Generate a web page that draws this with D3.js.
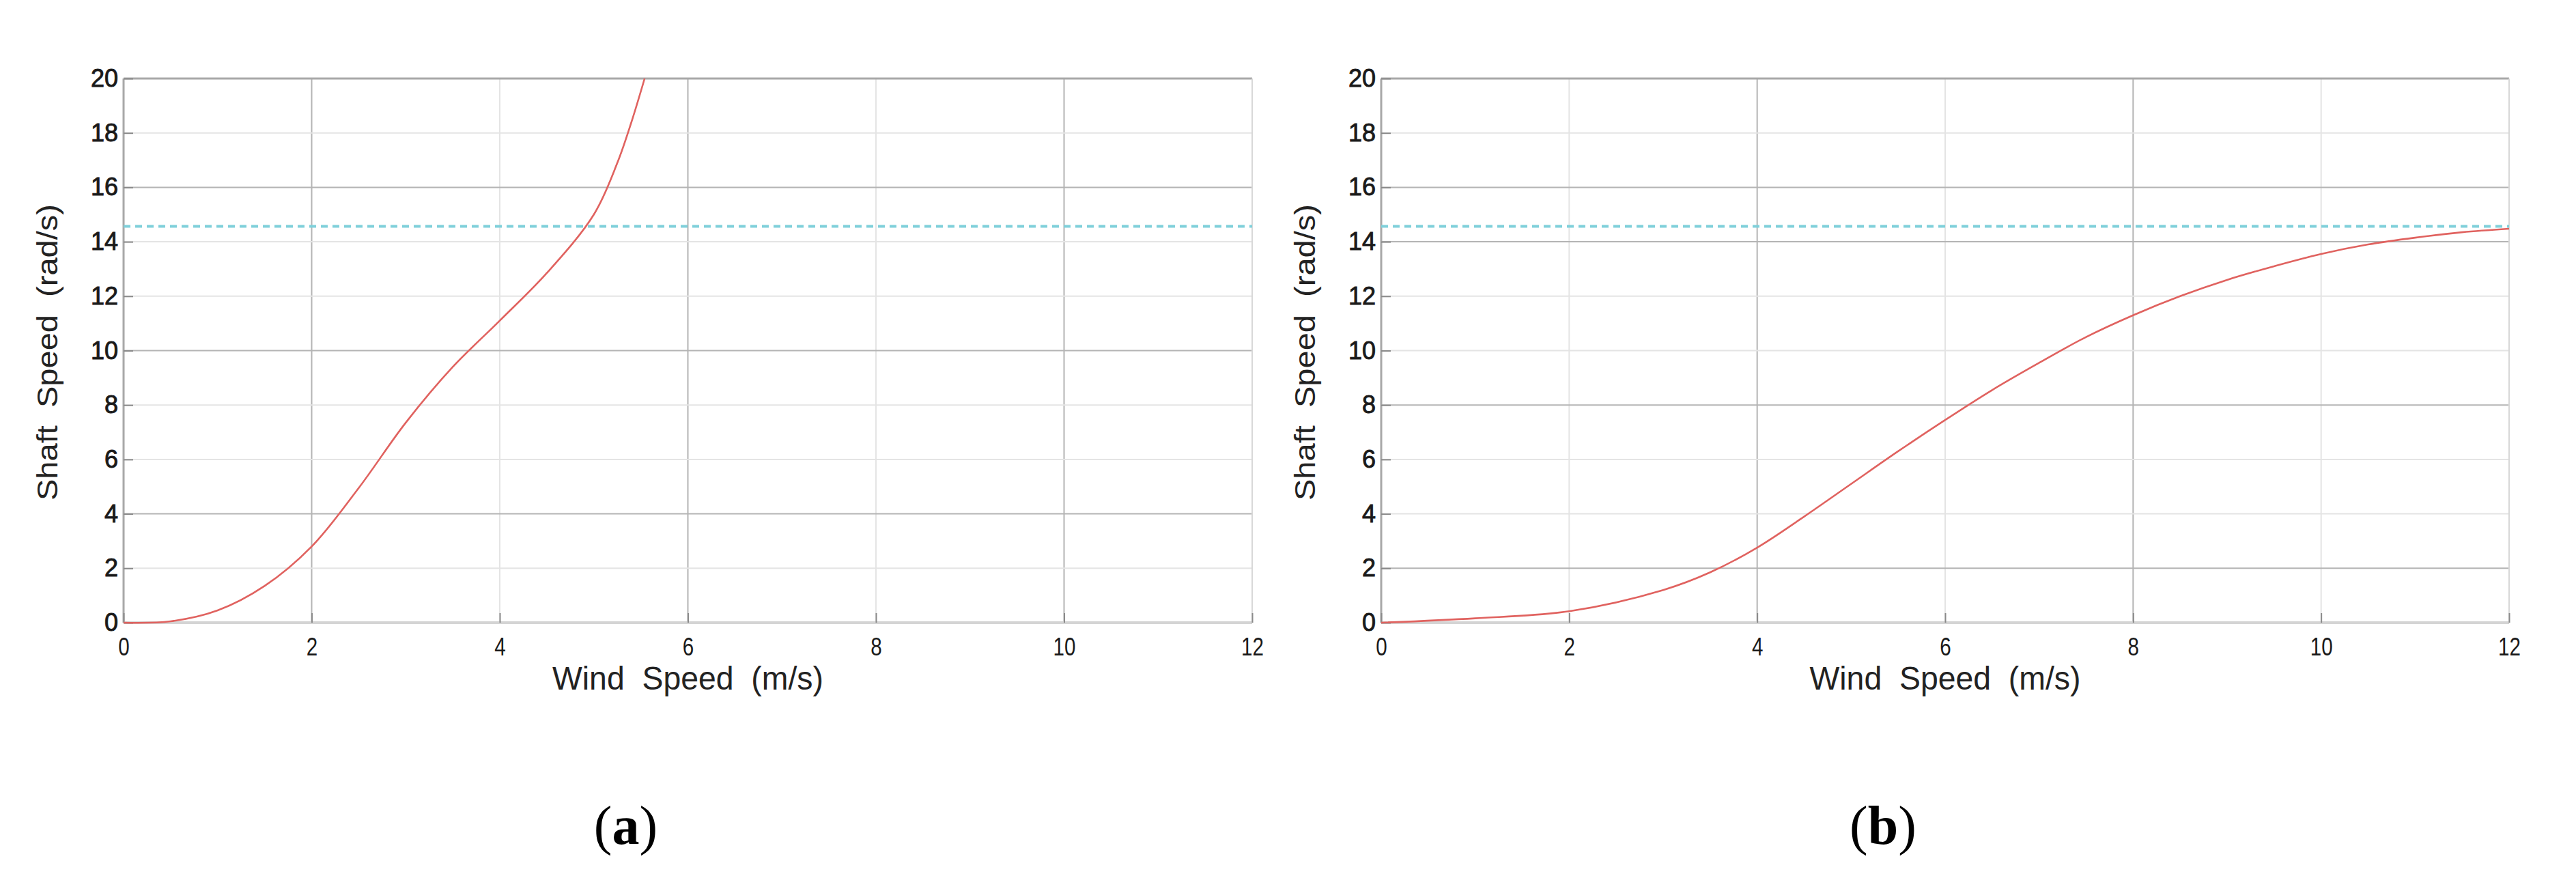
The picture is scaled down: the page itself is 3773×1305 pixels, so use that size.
<!DOCTYPE html>
<html>
<head>
<meta charset="utf-8">
<script src="https://cdn.jsdelivr.net/npm/d3@7"></script>
<style>
  html, body { margin: 0; padding: 0; background: #ffffff; }
  svg { display: block; }
</style>
</head>
<body>
<svg id="chart" width="3773" height="1305"></svg>
<script>
// ---------------- data ----------------
const xTickValues = [0, 2, 4, 6, 8, 10, 12];
const yTickValues = [0, 2, 4, 6, 8, 10, 12, 14, 16, 18, 20];

// (a) shaft speed vs wind speed
const windA  = [0, 0.5, 1.0, 1.5, 2.0, 2.5, 3.0, 3.5, 4.0, 4.5, 5.0, 5.25, 5.4, 5.54];
const speedA = [0, 0.05, 0.45, 1.35, 2.8, 4.95, 7.35, 9.4, 11.1, 12.85, 15.0, 16.9, 18.4, 20.0];

// (b) shaft speed vs wind speed
const windB  = [0, 1, 2, 3, 3.5, 4, 4.5, 5, 5.5, 6, 6.5, 7, 7.5, 8, 8.5, 9, 9.5, 10, 10.5, 11, 11.5, 12];
const speedB = [0, 0.16, 0.42, 1.2, 1.85, 2.76, 3.9, 5.1, 6.3, 7.45, 8.55, 9.55, 10.5, 11.3, 12.0, 12.6, 13.1, 13.55, 13.9, 14.15, 14.35, 14.48];

// rated shaft speed (dashed reference)
const ratedSpeed = 14.57;

const xTitle = "Wind  Speed  (m/s)";
const yTitle = "Shaft  Speed  (rad/s)";
const captions = ["a", "b"];

// ---------------- layout / style ----------------
const panels = [
  { left: 181,  right: 1834, top: 115, bottom: 912, wind: windA, speed: speedA, caption: captions[0],
    darkX: [2, 6, 10], darkY: [4, 10, 16] },
  { left: 2023, right: 3675, top: 115, bottom: 912, wind: windB, speed: speedB, caption: captions[1],
    darkX: [4, 8], darkY: [2, 8, 14, 16] }
];

const svg = d3.select("#chart");
svg.append("rect").attr("width", 3773).attr("height", 1305).attr("fill", "#ffffff");

panels.forEach(p => {
  const x = d3.scaleLinear().domain([0, 12]).range([p.left, p.right]);
  const y = d3.scaleLinear().domain([0, 20]).range([p.bottom, p.top]);
  const g = svg.append("g");

  // grid lines
  g.append("g").selectAll("line").data(xTickValues.filter(v => v > 0 && v < 12)).join("line")
    .attr("x1", d => x(d)).attr("x2", d => x(d))
    .attr("y1", p.top).attr("y2", p.bottom)
    .attr("stroke", d => p.darkX.includes(d) ? "#b4b4b4" : "#e4e4e4")
    .attr("stroke-width", 2);
  g.append("g").selectAll("line").data(yTickValues.filter(v => v > 0 && v < 20)).join("line")
    .attr("x1", p.left).attr("x2", p.right)
    .attr("y1", d => y(d)).attr("y2", d => y(d))
    .attr("stroke", d => p.darkY.includes(d) ? "#b4b4b4" : "#e4e4e4")
    .attr("stroke-width", 2);

  // frame
  g.append("line").attr("x1", p.left).attr("x2", p.right).attr("y1", p.top).attr("y2", p.top)
    .attr("stroke", "#a8a8a8").attr("stroke-width", 3);
  g.append("line").attr("x1", p.right).attr("x2", p.right).attr("y1", p.top).attr("y2", p.bottom)
    .attr("stroke", "#d8d8d8").attr("stroke-width", 2);
  g.append("line").attr("x1", p.left).attr("x2", p.left).attr("y1", p.top).attr("y2", p.bottom)
    .attr("stroke", "#a8a8a8").attr("stroke-width", 3);
  g.append("line").attr("x1", p.left).attr("x2", p.right).attr("y1", p.bottom).attr("y2", p.bottom)
    .attr("stroke", "#d4d4d4").attr("stroke-width", 4);

  // axes (ticks inward)
  const xAxis = d3.axisBottom(x).tickValues(xTickValues).tickSize(-14).tickPadding(22).tickFormat(d3.format("d"));
  const yAxis = d3.axisLeft(y).tickValues(yTickValues).tickSize(-14).tickPadding(22).tickFormat(d3.format("d"));

  const gx = g.append("g").attr("transform", `translate(0,${p.bottom})`).call(xAxis);
  gx.select(".domain").remove();
  gx.selectAll(".tick line").attr("stroke", "#8a8a8a").attr("stroke-width", 2);
  gx.selectAll(".tick text")
    .attr("font-family", "'Liberation Sans', Arial, sans-serif")
    .attr("font-size", 37).attr("fill", "#1a1a1a")
    .attr("dy", "0.71em")
    .attr("transform", "scale(0.8,1)");

  const gy = g.append("g").attr("transform", `translate(${p.left},0)`).call(yAxis);
  gy.select(".domain").remove();
  gy.selectAll(".tick line").attr("stroke", "#8a8a8a").attr("stroke-width", 2);
  gy.selectAll(".tick text")
    .attr("font-family", "'Liberation Sans', Arial, sans-serif")
    .attr("font-size", 36).attr("fill", "#1a1a1a")
    .attr("stroke", "#1a1a1a").attr("stroke-width", 0.9)
    .attr("x", -8);

  // rated speed dashed line
  g.append("line")
    .attr("x1", x(0)).attr("x2", x(12))
    .attr("y1", y(ratedSpeed)).attr("y2", y(ratedSpeed))
    .attr("stroke", "#7fd0da").attr("stroke-width", 4)
    .attr("stroke-dasharray", "10 7");

  // curve
  const line = d3.line().x(d => x(d[0])).y(d => y(d[1])).curve(d3.curveCatmullRom.alpha(0.5));
  g.append("path")
    .datum(p.wind.map((w, i) => [w, p.speed[i]]))
    .attr("d", line)
    .attr("fill", "none").attr("stroke", "#e0625f").attr("stroke-width", 2.6);

  // axis titles
  const cx = (p.left + p.right) / 2;
  g.append("text")
    .attr("x", cx).attr("y", 1010)
    .attr("text-anchor", "middle")
    .attr("font-family", "'Liberation Sans', Arial, sans-serif")
    .attr("font-size", 48).attr("fill", "#222")
    .attr("textLength", 397).attr("lengthAdjust", "spacingAndGlyphs")
    .style("white-space", "pre")
    .text(xTitle);

  const cy = 516;
  g.append("text")
    .attr("transform", `translate(${p.left - 97},${cy}) rotate(-90)`)
    .attr("text-anchor", "middle")
    .attr("font-family", "'Liberation Sans', Arial, sans-serif")
    .attr("font-size", 42).attr("fill", "#222")
    .attr("textLength", 434).attr("lengthAdjust", "spacingAndGlyphs")
    .style("white-space", "pre")
    .text(yTitle);

  // caption
  const cap = g.append("text")
    .attr("x", cx - 91).attr("y", 1236)
    .attr("text-anchor", "middle")
    .attr("font-family", "'Liberation Serif', 'Times New Roman', serif")
    .attr("font-size", 80).attr("fill", "#000");
  cap.append("tspan").text("(");
  cap.append("tspan").attr("font-weight", "bold").text(p.caption);
  cap.append("tspan").text(")");
});
</script>
</body>
</html>
